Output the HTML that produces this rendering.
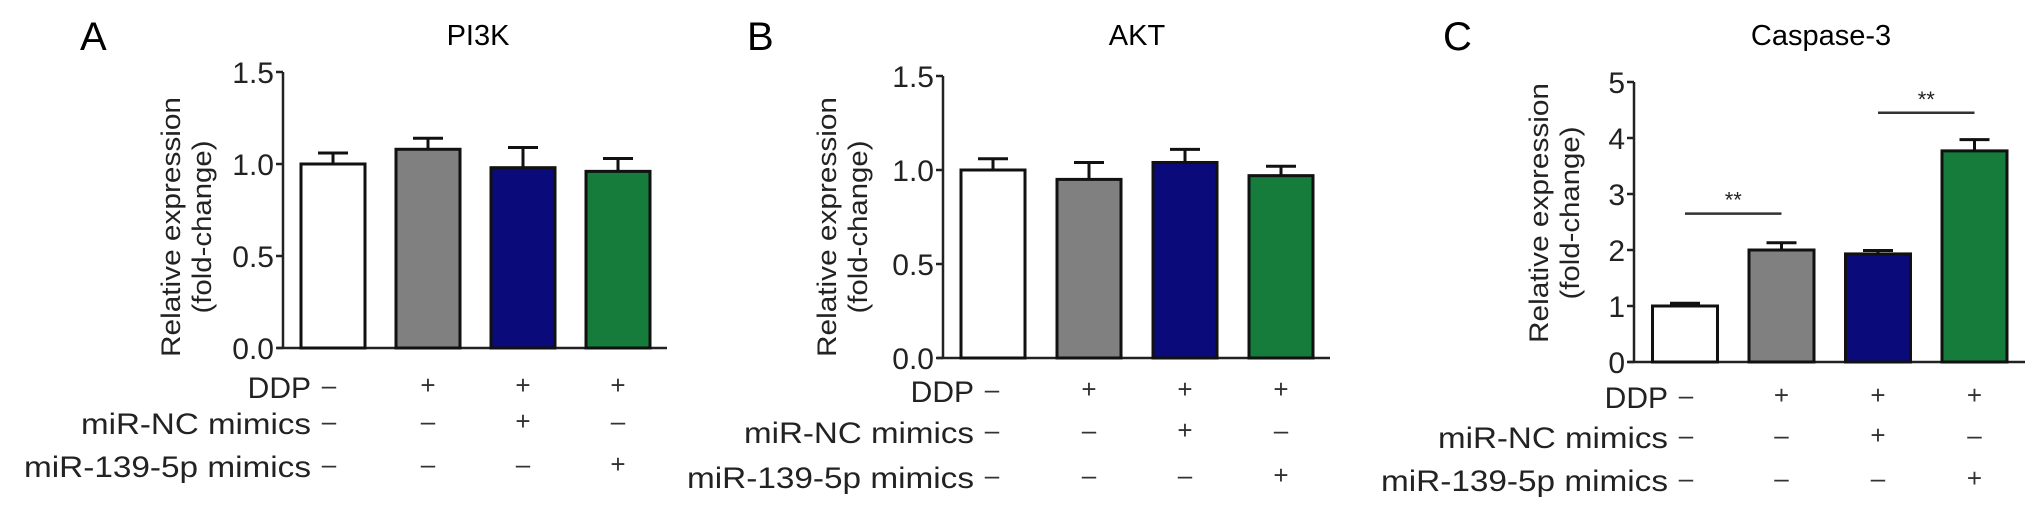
<!DOCTYPE html>
<html><head><meta charset="utf-8"><style>
html,body{margin:0;padding:0;background:#fff;}
svg{display:block;font-family:"Liberation Sans",Arial,sans-serif;}
</style></head><body>
<svg id="fig" width="2032" height="518" viewBox="0 0 2032 518" xmlns="http://www.w3.org/2000/svg"></svg>
<script>
const categories = ["Control", "DDP", "DDP + miR-NC", "DDP + miR-139-5p"];
const pi3kValues = [1.00, 1.08, 0.98, 0.96];
const pi3kErrors = [0.06, 0.06, 0.11, 0.07];
const aktValues = [1.00, 0.95, 1.04, 0.97];
const aktErrors = [0.06, 0.09, 0.07, 0.05];
const casp3Values = [1.00, 2.00, 1.93, 3.77];
const casp3Errors = [0.05, 0.13, 0.06, 0.20];
const pi3kTicks = ["0.0", "0.5", "1.0", "1.5"];
const aktTicks = ["0.0", "0.5", "1.0", "1.5"];
const casp3Ticks = ["0", "1", "2", "3", "4", "5"];
const ddpRow = ["–", "+", "+", "+"];
const ncRow = ["–", "–", "+", "–"];
const mirRow = ["–", "–", "–", "+"];
const barColors = ["#ffffff", "#808080", "#0a0a7a", "#157c3c"];

const NS = "http://www.w3.org/2000/svg";
const svg = document.getElementById("fig");
function mk(tag, attrs, parent) {
  const e = document.createElementNS(NS, tag);
  for (const k in attrs) e.setAttribute(k, attrs[k]);
  (parent || svg).appendChild(e);
  return e;
}

function panel(p) {
  const g = mk("g", {});
  
  
  const y = v => p.y0 - (v / p.vmax) * (p.y0 - p.yTop);
  const letter = mk("text", {x: p.letterX, y: 50, "font-size": 40}, g);
  letter.textContent = p.letter;
  
  
  const title = mk("text", {x: p.titleX, y: 45, "font-size": 29, "text-anchor": "middle"}, g);
  title.textContent = p.title;
  
  
  const ax = mk("line", {x1: p.axisX, y1: p.yTop, x2: p.axisX, y2: p.y0, stroke: "#222", "stroke-width": 2.5}, g);
  
  
  const xa = mk("line", {x1: p.axisX - 6, y1: p.y0, x2: p.axisEnd, y2: p.y0, stroke: "#222", "stroke-width": 2.5}, g);
  
  
  p.ticks.forEach(t => {
    const v = parseFloat(t);
    const ty = y(v);
    mk("line", {x1: p.axisX - 7, y1: ty, x2: p.axisX, y2: ty, stroke: "#222", "stroke-width": 2.5}, g);
    const tl = mk("text", {x: p.axisX - 9, y: ty + 11, "font-size": 30, "text-anchor": "end", fill: "#222"}, g);
    tl.textContent = t;
    
    
  });
  const yt = mk("text", {transform: `translate(${p.ytX},${p.ytY}) rotate(-90)`, "font-size": 27, "text-anchor": "middle", fill: "#222"}, g);
  const t1 = mk("tspan", {x: 0, y: 0, textLength: 260, lengthAdjust: "spacingAndGlyphs"}, yt);
  t1.textContent = "Relative expression";
  const t2 = mk("tspan", {x: 0, y: 31, textLength: 173, lengthAdjust: "spacingAndGlyphs"}, yt);
  t2.textContent = "(fold-change)";
  
  
  p.values.forEach((v, i) => {
    const cx = p.firstX + i * p.step;
    const top = y(v), errTop = y(v + p.errors[i]);
    const el = mk("line", {x1: cx, y1: top, x2: cx, y2: errTop, stroke: "#111", "stroke-width": 3}, g);
    
    
    mk("line", {x1: cx - 15, y1: errTop, x2: cx + 15, y2: errTop, stroke: "#111", "stroke-width": 3}, g);
    const r = mk("rect", {x: cx - p.bw / 2, y: top, width: p.bw, height: p.y0 - top, fill: barColors[i], stroke: "#111", "stroke-width": 3}, g);
    
    
  });
  const rows = [["DDP", ddpRow, null], ["miR-NC mimics", ncRow, 230], ["miR-139-5p mimics", mirRow, 287]];
  rows.forEach((row, ri) => {
    const by = p.rowY[ri];
    const lt = mk("text", {x: p.labelEnd, y: by, "font-size": 30, "text-anchor": "end", fill: "#222"}, g);
    if (row[2]) { lt.setAttribute("textLength", row[2]); lt.setAttribute("lengthAdjust", "spacingAndGlyphs"); }
    lt.textContent = row[0];
    
    
    row[1].forEach((s, i) => {
      const cx = i === 0 ? p.labelEnd + 18 : p.firstX + i * p.step;
      const st = mk("text", {x: cx, y: by - 4, "font-size": 26, "text-anchor": "middle", fill: "#333"}, g);
      st.textContent = s;
      
      
    });
  });
  return {g, y};
}

panel({id: "pi3k", letter: "A", letterX: 80, title: "PI3K", titleX: 478, axisX: 283, axisEnd: 667,
  y0: 348, yTop: 72, vmax: 1.5, ticks: pi3kTicks, values: pi3kValues, errors: pi3kErrors,
  firstX: 333, step: 95, bw: 64, ytX: 180, ytY: 227, labelEnd: 311, rowY: [398, 434, 477]});
panel({id: "akt", letter: "B", letterX: 747, title: "AKT", titleX: 1137, axisX: 943, axisEnd: 1330,
  y0: 358, yTop: 76, vmax: 1.5, ticks: aktTicks, values: aktValues, errors: aktErrors,
  firstX: 993, step: 96, bw: 64, ytX: 836, ytY: 227, labelEnd: 974, rowY: [402, 443, 488]});
const c = panel({id: "caspase3", letter: "C", letterX: 1443, title: "Caspase-3", titleX: 1821, axisX: 1634, axisEnd: 2025,
  y0: 362, yTop: 82, vmax: 5, ticks: casp3Ticks, values: casp3Values, errors: casp3Errors,
  firstX: 1685, step: 96.5, bw: 65, ytX: 1548, ytY: 213, labelEnd: 1668, rowY: [408, 448, 491]});

const sigPairs = [[0, 1, 2.65], [2, 3, 4.45]];
sigPairs.forEach((s, k) => {
  const x1 = 1685 + s[0] * 96.5, x2 = 1685 + s[1] * 96.5;
  const yy = c.y(s[2]);
  const ln = mk("line", {x1: x1, y1: yy, x2: x2, y2: yy, stroke: "#333", "stroke-width": 2.5}, c.g);
  
  
  const st = mk("text", {x: (x1 + x2) / 2, y: yy - 6, "font-size": 22, "text-anchor": "middle", fill: "#222"}, c.g);
  st.textContent = "**";
  
  
});
</script>
</body></html>
